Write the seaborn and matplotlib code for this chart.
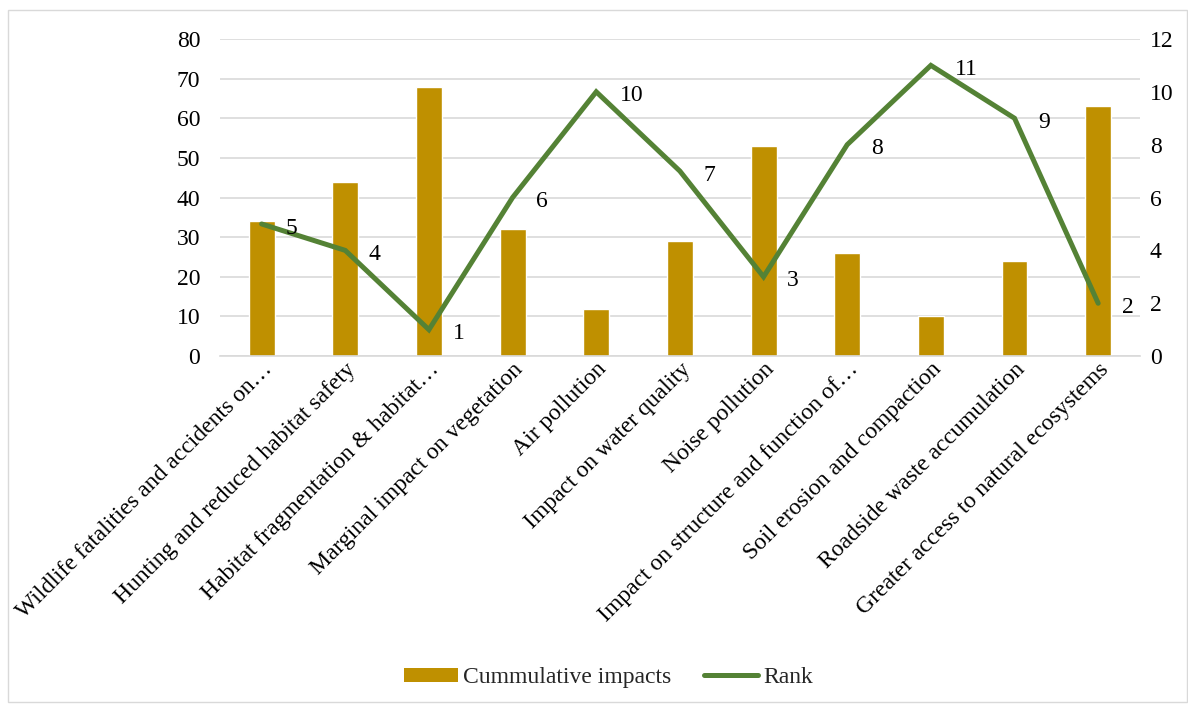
import matplotlib
matplotlib.use("Agg")
import matplotlib.pyplot as plt
import seaborn as sns
import pandas as pd
from matplotlib.patches import Rectangle, Patch
from matplotlib.lines import Line2D

categories = [
    "Wildlife fatalities and accidents on…",
    "Hunting and reduced habitat safety",
    "Habitat fragmentation & habitat…",
    "Marginal impact on vegetation",
    "Air pollution",
    "Impact on water quality",
    "Noise pollution",
    "Impact on structure and function of…",
    "Soil erosion and compaction",
    "Roadside waste accumulation",
    "Greater access to natural ecosystems",
]
cumulative = [34, 44, 68, 32, 12, 29, 53, 26, 10, 24, 63]
rank = [5, 4, 1, 6, 10, 7, 3, 8, 11, 9, 2]

bar_color = "#BF9000"
line_color = "#548235"

sns.set_theme(style="white")
plt.rcParams["font.family"] = ["Liberation Serif", "DejaVu Serif"]

FS = 17

df = pd.DataFrame({"cat": categories, "cum": cumulative, "rank": rank})

fig = plt.figure(figsize=(11.88, 7.08), dpi=100)
ax = fig.add_axes([0.185, 0.497, 0.7746, 0.448])

sns.barplot(data=df, x="cat", y="cum", color=bar_color, width=0.31,
            saturation=1, ax=ax, zorder=2)
ax.set_ylim(0, 80)
ax.set_yticks(range(0, 81, 10))
ax.yaxis.grid(True, color="#D9D9D9", linewidth=1.2, zorder=0)
ax.set_axisbelow(True)
ax.set_xlim(-0.5, len(categories) - 0.5)
for s in ax.spines.values():
    s.set_visible(False)
ax.spines["bottom"].set_visible(True)
ax.spines["bottom"].set_color("#D9D9D9")
ax.spines["bottom"].set_linewidth(1.2)
ax.set_xlabel("")
ax.set_ylabel("")
ax.tick_params(axis="y", labelsize=FS, length=0, pad=14, colors="black")
ax.tick_params(axis="x", labelsize=FS, length=0, pad=2, colors="black")
ax.set_xticks(range(len(categories)))
ax.set_xticklabels(categories, rotation=45, ha="right", rotation_mode="anchor")

ax2 = ax.twinx()
sns.lineplot(x=list(range(len(categories))), y=rank, color=line_color,
             linewidth=3.6, ax=ax2, solid_capstyle="round", solid_joinstyle="miter")
ax2.set_ylim(0, 12)
ax2.set_yticks(range(0, 13, 2))
ax2.tick_params(axis="y", labelsize=FS, length=0, pad=7, colors="black")
for s in ax2.spines.values():
    s.set_visible(False)
ax2.set_ylabel("")
for i, r in enumerate(rank):
    ax2.annotate(str(r), (i, r), xytext=(17, -3), textcoords="offset points",
                 ha="left", va="center", fontsize=FS, color="black")

handles = [Patch(facecolor=bar_color, edgecolor="none", label="Cummulative impacts"),
           Line2D([0], [0], color=line_color, linewidth=3.6, solid_capstyle="round", label="Rank")]
fig.legend(handles=handles, loc="center", bbox_to_anchor=(0.512, 0.043), ncol=2,
           frameon=False, fontsize=FS, handlelength=2.3, handleheight=0.55,
           handletextpad=0.2, columnspacing=1.4)

fig.patches.append(Rectangle((8 / 1188, 6 / 708), 1 - 9 / 1188, 1 - 16 / 708,
                             transform=fig.transFigure, fill=False,
                             edgecolor="#D9D9D9", linewidth=1))

fig.savefig("out.png", dpi=100)
